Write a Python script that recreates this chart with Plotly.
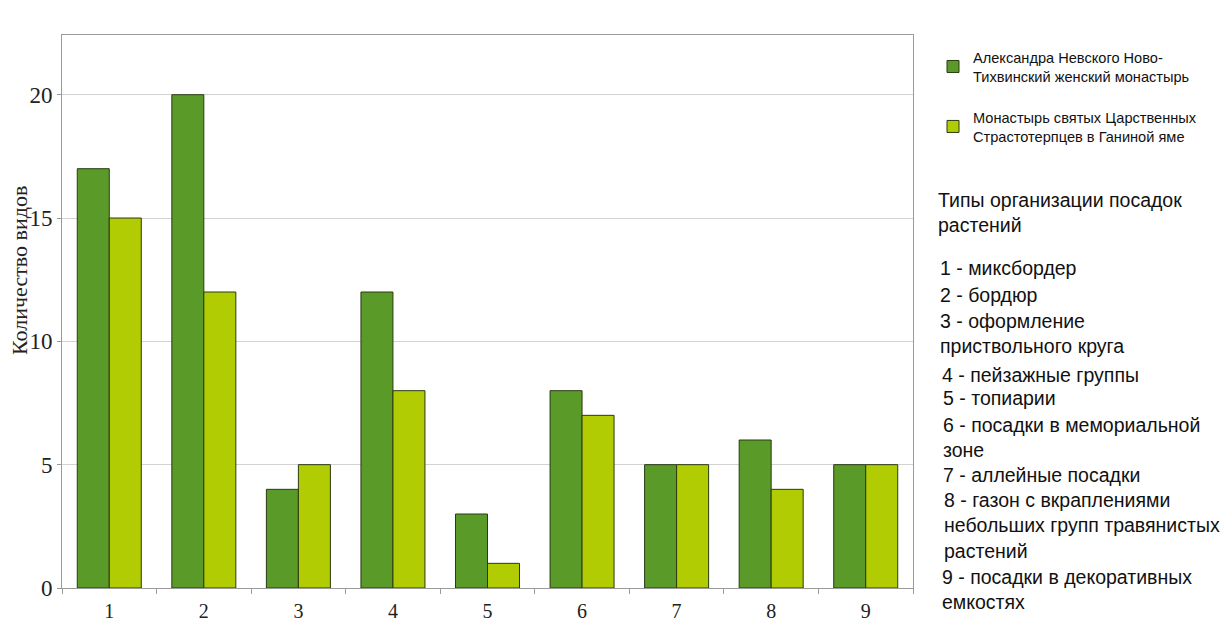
import plotly.graph_objects as go

categories = ["1", "2", "3", "4", "5", "6", "7", "8", "9"]
series_a = [17, 20, 4, 12, 3, 8, 5, 6, 5]
series_b = [15, 12, 5, 8, 1, 7, 5, 4, 5]
name_a = "Александра Невского Ново-<br>Тихвинский женский монастырь"
name_b = "Монастырь святых Царственных<br>Страстотерпцев в Ганиной яме"
y_title = "Количество видов"
notes_title = "Типы организации посадок<br>растений"
notes = [
    "1 - миксбордер",
    "2 - бордюр",
    "3 - оформление<br>приствольного круга",
    "4 - пейзажные группы",
    "5 - топиарии",
    "6 - посадки в мемориальной<br>зоне",
    "7 - аллейные посадки",
    "8 - газон с вкраплениями<br>небольших групп травянистых<br>растений",
    "9 - посадки в декоративных<br>емкостях",
]

OFF = 8  # page body margin
W, H = 1228 - OFF, 640 - OFF
L, R, T, B = 62, 913, 35, 588  # plot area in reference pixels
pw, ph = R - L, B - T


def px_x(x):
    return (x - L) / pw


def px_y(y):
    return (B - y) / ph


fig = go.Figure()
fig.add_trace(go.Bar(
    x=categories, y=series_a, name=name_a, legendgroup="a",
    marker=dict(color="#5a9a28", line=dict(color="#2a3a12", width=1)),
))
fig.add_trace(go.Bar(
    x=categories, y=series_b, name=name_b, legendgroup="b",
    marker=dict(color="#b2cc04", line=dict(color="#2a3a12", width=1)),
))

annotations = []
annotations.append(dict(
    text=y_title, textangle=-90, xref="paper", yref="paper",
    x=px_x(19), y=px_y(271), xanchor="center", yanchor="middle",
    showarrow=False, font=dict(family="Liberation Serif", size=22, color="#222"),
))

sans = dict(family="Liberation Sans, Arial", size=19.5, color="#111")
annotations.append(dict(
    text=notes_title, xref="paper", yref="paper", x=px_x(936), y=px_y(212),
    xanchor="left", yanchor="middle", align="left", showarrow=False, font=sans,
))
note_pos = [(938, 268), (938, 295), (938, 333), (940, 375), (941, 398),
            (941, 437.5), (941, 475), (942, 525), (940, 589)]
for txt, (nx, ny) in zip(notes, note_pos):
    annotations.append(dict(
        text=txt, xref="paper", yref="paper", x=px_x(nx), y=px_y(ny),
        xanchor="left", yanchor="middle", align="left", showarrow=False, font=sans,
    ))

fig.update_layout(
    width=W, height=H,
    margin=dict(l=L - OFF, r=W - (R - OFF), t=T - OFF, b=H - (B - OFF), pad=0),
    paper_bgcolor="white", plot_bgcolor="white",
    barmode="group", bargap=0.323, bargroupgap=0,
    showlegend=True,
    legend=dict(
        x=px_x(933), y=px_y(41), xanchor="left", yanchor="top",
        font=dict(family="Liberation Sans, Arial", size=14.6, color="#111"),
        tracegroupgap=19, bgcolor="rgba(0,0,0,0)",
    ),
    annotations=annotations,
    xaxis=dict(
        type="category", showgrid=False, showline=True, linecolor="#9a9a9a",
        linewidth=1, mirror=True, ticks="outside", tickson="boundaries",
        ticklen=5, tickcolor="#9a9a9a", ticklabelstandoff=5,
        tickfont=dict(family="Liberation Serif", size=20, color="#222"),
    ),
    yaxis=dict(
        range=[0, 22.42], tickvals=[0, 5, 10, 15, 20], showgrid=True,
        gridcolor="#d2d2d2", gridwidth=1, showline=True, linecolor="#9a9a9a",
        linewidth=1, mirror=True, ticks="outside", ticklen=4, tickcolor="#9a9a9a",
        tickfont=dict(family="Liberation Serif", size=23, color="#222"),
        zeroline=False,
    ),
)

fig.write_html("out.html")
